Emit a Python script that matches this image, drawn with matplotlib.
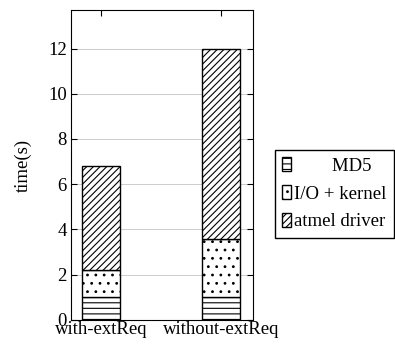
import matplotlib
matplotlib.use("Agg")
from matplotlib import pyplot as plt
import numpy as np

categories = ["with-extReq", "without-extReq"]
md5 = [1.0, 1.0]
io_kernel = [1.2, 2.6]
atmel_driver = [4.6, 8.4]
series_names = ["        MD5", "I/O + kernel", "atmel driver"]

plt.rcParams["font.family"] = ["Liberation Serif", "DejaVu Serif"]
plt.rcParams["hatch.linewidth"] = 0.8


def main():
    fig = plt.figure(figsize=(3.95, 3.47), dpi=100)
    ax = fig.add_axes([0.18, 0.078, 0.461, 0.893])

    x = np.arange(len(categories))
    width = 0.32
    bottom = np.zeros(len(categories))
    hatches = ["---", "..", "/////"]
    for values, name, hatch in zip([md5, io_kernel, atmel_driver], series_names, hatches):
        ax.bar(x, values, width, bottom=bottom, label=name, color="white",
               edgecolor="black", hatch=hatch, linewidth=1.0, zorder=3)
        bottom += np.array(values)

    ax.set_xlim(-0.25, 1.27)
    ax.set_ylim(0, 13.7)
    ax.set_yticks([0, 2, 4, 6, 8, 10, 12])
    ax.set_xticks(x)
    ax.set_xticklabels(categories)
    ax.yaxis.grid(True, color="#c4c4c4", linewidth=0.6, zorder=0)
    ax.tick_params(direction="in", labelsize=13.5, length=4, top=True, right=True)
    ax.tick_params(axis="x", pad=1)
    ax.tick_params(axis="y", pad=3)
    ax.set_ylabel("time(s)", fontsize=13.5, labelpad=12)

    fig.legend(loc="upper left", bbox_to_anchor=(0.696, 0.568),
               bbox_transform=fig.transFigure, borderaxespad=0,
               fancybox=False, edgecolor="black", framealpha=1,
               fontsize=13.5, handlelength=0.45, handleheight=0.75,
               handletextpad=0.15, borderpad=0.4, labelspacing=0.55)

    fig.savefig("out.png", dpi=100)


if __name__ == "__main__":
    main()
